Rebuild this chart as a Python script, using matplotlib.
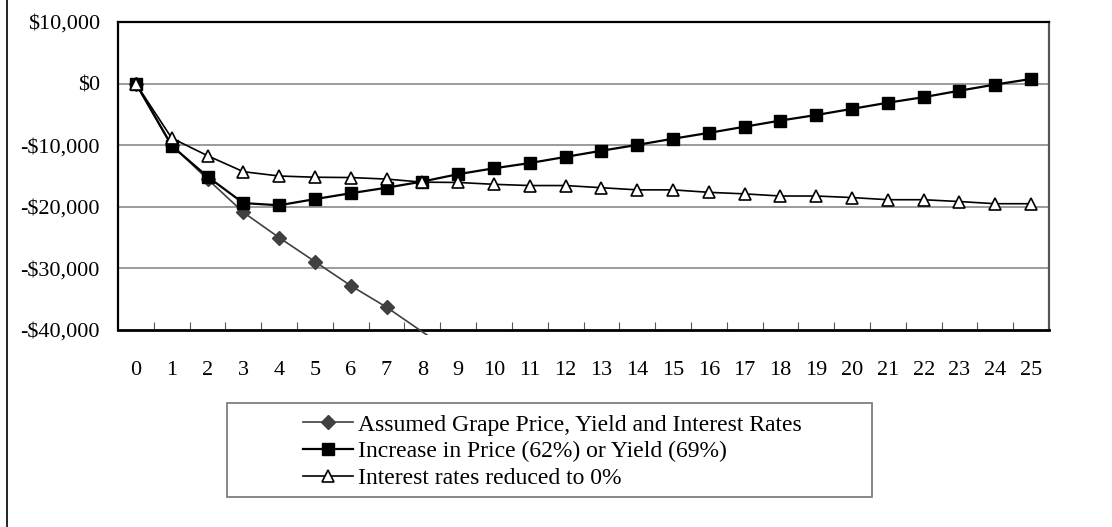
import numpy as np
import matplotlib.pyplot as plt
from matplotlib.patches import Rectangle
from matplotlib.lines import Line2D

plt.rcParams['font.family'] = ['Liberation Serif', 'DejaVu Serif']

# --- data ---
years = list(range(26))
base_case = [0, -10000, -15500, -20900, -25000, -28900, -32800, -36300, -40300, -44300]
price_yield = [0, -10100, -15100, -19400, -19750, -18750, -17800, -16900, -15900, -14700,
               -13750, -12900, -11900, -10900, -9950, -8950, -8000, -7000, -6000, -5100,
               -4100, -3100, -2200, -1150, -150, 750]
zero_interest = [0, -8850, -11700, -14300, -15000, -15200, -15250, -15500, -16000, -16050,
                 -16350, -16550, -16550, -16900, -17250, -17250, -17650, -17900, -18250, -18250,
                 -18500, -18850, -18850, -19150, -19500, -19500]
series_names = ['Assumed Grape Price, Yield and Interest Rates',
                'Increase in Price (62%) or Yield (69%)',
                'Interest rates reduced to 0%']
y_ticks = [10000, 0, -10000, -20000, -30000, -40000]
y_labels = ['$10,000', '$0', '-$10,000', '-$20,000', '-$30,000', '-$40,000']

W, H = 1112, 527
fig = plt.figure(figsize=(W / 100, H / 100), dpi=100)
ax = fig.add_axes([118 / W, 1 - 330 / H, (1049 - 118) / W, (330 - 22) / H])

# gridlines
for v in y_ticks[1:-1]:
    ax.axhline(v, color='#808080', lw=1.1, zorder=1)

l1, = ax.plot(years[:len(base_case)], base_case, color='#404040', lw=1.2,
              marker='D', ms=6.8, mfc='#404040', mec='#404040',
              markevery=list(range(8)), zorder=3, label=series_names[0])
clip = Rectangle((0, -0.017), 1, 1.03, transform=ax.transAxes)
l1.set_clip_path(clip)

l2, = ax.plot(years, price_yield, color='black', lw=1.6, marker='s', ms=8,
              mfc='black', mec='black', zorder=4, label=series_names[1])
l3, = ax.plot(years, zero_interest, color='black', lw=1.2, marker='^', ms=9,
              mfc='white', mec='black', mew=1.2, zorder=5, label=series_names[2])

ax.set_xlim(-0.5, 25.5)
ax.set_ylim(-40000, 10000)
ax.set_yticks(y_ticks)
ax.set_yticklabels(y_labels)
ax.set_xticks(years)
ax.set_xticklabels([str(y) for y in years])
ax.set_xticks(np.arange(0.5, 25, 1), minor=True)
ax.tick_params(axis='x', which='major', length=0, pad=22.5, labelsize=16)
ax.tick_params(axis='x', which='minor', direction='in', length=6, width=0.8, color='#555555')
ax.tick_params(axis='y', length=0, pad=13, labelsize=16)

for s in ['top', 'left']:
    ax.spines[s].set_linewidth(1.6)
    ax.spines[s].set_color('black')
ax.spines['bottom'].set_linewidth(2.0)
ax.spines['right'].set_linewidth(1.6)
ax.spines['right'].set_color('#555555')

# legend box drawn separately to get Excel-like padding
fig.patches.append(Rectangle((227 / W, 1 - 497 / H), (872 - 227) / W, (497 - 403) / H,
                             transform=fig.transFigure, fill=False, ec='#7f7f7f', lw=1.3))
leg = fig.legend(handles=[l1, l2, l3], loc='upper left',
                 bbox_to_anchor=(303 / W, 1 - 414 / H), frameon=False,
                 borderpad=0, borderaxespad=0, handlelength=2.1, handletextpad=0.22,
                 labelspacing=0.22, fontsize=17)

# outer chart border on the left
fig.add_artist(Line2D([6.5 / W, 6.5 / W], [0, 1], transform=fig.transFigure,
                      color='black', lw=1.2))

fig.savefig('out.png', dpi=100)
